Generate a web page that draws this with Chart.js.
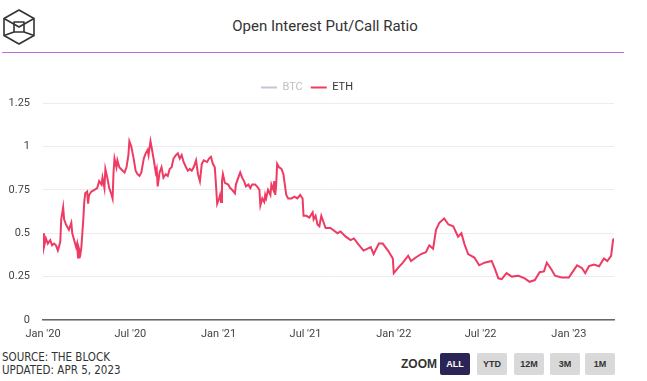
<!DOCTYPE html>
<html>
<head>
<meta charset="utf-8">
<script src="https://cdn.jsdelivr.net/npm/chart.js@4.4.0/dist/chart.umd.min.js"></script>
<style>
  html, body { margin: 0; padding: 0; background: #fff; }
  body { width: 647px; height: 381px; position: relative; overflow: hidden; font-family: Roboto, "Liberation Sans", sans-serif; }
  #logo { position: absolute; left: 3px; top: 9px; }
  #title { position: absolute; left: 0; top: 17px; width: 650px; text-align: center; font-size: 15px; color: #333; }
  #rule { position: absolute; left: 2px; top: 52px; width: 622px; height: 0; border-top: 1.5px solid #c46be0; }
  #chart-wrap { position: absolute; left: 0; top: 66px; width: 630px; height: 282px; }
  #source { position: absolute; left: 2px; top: 351px; font-family: "Liberation Sans Narrow", "DejaVu Sans Condensed", sans-serif; font-size: 11.5px; line-height: 13px; color: #333; }
  #zoom-label { position: absolute; left: 401px; top: 357px; font-family: "Liberation Sans Narrow", sans-serif; font-weight: bold; font-size: 12px; color: #333; }
  .zbtn { position: absolute; top: 353px; width: 30px; height: 22px; line-height: 22px; text-align: center; font-family: "Liberation Sans Narrow", sans-serif; font-weight: bold; font-size: 9px; color: #333; background: #d9d9d9; border-radius: 2px; }
  .zbtn.active { background: #2b2557; color: #fff; }
</style>
</head>
<body>
<svg id="logo" width="34" height="36" viewBox="0 0 34 36">
  <g fill="none" stroke="#333" stroke-width="1.6" stroke-linejoin="round">
    <polygon points="16,1 31,9.5 31,26.5 16,35 1,26.5 1,9.5"/>
    <polyline points="1,9.5 16,18 31,9.5"/>
    <rect x="11" y="13" width="10" height="10"/>
    <line x1="11" y1="23" x2="1" y2="26.5"/>
    <line x1="21" y1="23" x2="31" y2="26.5"/>
  </g>
</svg>
<div id="title">Open Interest Put/Call Ratio</div>
<div id="rule"></div>
<div id="chart-wrap"><canvas id="chart"></canvas></div>
<div id="source">SOURCE: THE BLOCK<br>UPDATED: APR 5, 2023</div>
<div id="zoom-label">ZOOM</div>
<div class="zbtn active" style="left:440px">ALL</div>
<div class="zbtn" style="left:477px">YTD</div>
<div class="zbtn" style="left:514px">12M</div>
<div class="zbtn" style="left:550px">3M</div>
<div class="zbtn" style="left:585px">1M</div>

<script>
// days since Jan 1, 2020
const ethDays = [
  0, 2, 6, 10, 15, 19, 23, 27, 31, 36, 38, 42, 44, 48, 52, 54, 59, 61, 65, 69,
  71, 73, 75, 78, 80, 82, 84, 86, 88, 92, 94, 96, 101, 107, 113, 117, 122, 124, 128, 130,
  134, 138, 143, 145, 147, 149, 153, 155, 159, 166, 170, 174, 178, 180, 184, 189, 193, 197, 201, 205,
  210, 214, 218, 220, 224, 226, 231, 235, 237, 239, 243, 247, 251, 256, 260, 264, 268, 272, 277, 281,
  285, 289, 293, 298, 302, 306, 310, 314, 319, 323, 327, 331, 335, 342, 346, 350, 354, 358, 360, 363,
  367, 369, 371, 373, 375, 379, 386, 390, 394, 400, 402, 407, 411, 415, 419, 423, 428, 432, 436, 442,
  446, 451, 453, 457, 461, 463, 465, 469, 474, 476, 480, 482, 484, 486, 488, 492, 497, 501, 503, 507,
  511, 518, 524, 530, 536, 541, 543, 549, 555, 562, 564, 568, 572, 576, 580, 585, 589, 599, 614, 620,
  631, 641, 648, 656, 668, 683, 689, 700, 708, 719, 729, 731, 740, 750, 761, 767, 777, 788, 798, 805,
  813, 819, 826, 836, 845, 855, 865, 872, 878, 886, 899, 909, 920, 935, 941, 949, 956, 966, 977, 991,
  1004, 1014, 1025, 1035, 1044, 1050, 1060, 1067, 1081, 1096, 1102, 1113, 1123, 1130, 1138, 1148, 1159, 1169, 1176, 1184,
  1188, 1190
];
const ethRatio = [
  0.50, 0.42, 0.47, 0.44, 0.46, 0.43, 0.44, 0.43, 0.40, 0.45, 0.58, 0.65, 0.58, 0.55, 0.53, 0.52, 0.56, 0.50, 0.46, 0.42,
  0.44, 0.36, 0.41, 0.38, 0.42, 0.50, 0.58, 0.68, 0.73, 0.74, 0.67, 0.72, 0.74, 0.75, 0.76, 0.80, 0.78, 0.82, 0.76, 0.87,
  0.82, 0.76, 0.72, 0.70, 0.85, 0.93, 0.88, 0.92, 0.88, 0.86, 0.85, 0.88, 0.95, 1.03, 1.00, 0.93, 0.86, 0.84, 0.83, 0.85,
  0.93, 0.96, 0.98, 0.95, 1.03, 1.00, 0.92, 0.85, 0.87, 0.77, 0.85, 0.88, 0.82, 0.84, 0.83, 0.87, 0.88, 0.93, 0.95, 0.96,
  0.93, 0.95, 0.91, 0.88, 0.86, 0.87, 0.86, 0.88, 0.92, 0.84, 0.80, 0.90, 0.92, 0.91, 0.93, 0.94, 0.90, 0.88, 0.80, 0.67,
  0.70, 0.72, 0.68, 0.80, 0.84, 0.79, 0.78, 0.76, 0.75, 0.73, 0.78, 0.82, 0.85, 0.82, 0.80, 0.77, 0.78, 0.76, 0.78, 0.78,
  0.77, 0.75, 0.66, 0.70, 0.68, 0.72, 0.70, 0.75, 0.72, 0.78, 0.75, 0.80, 0.72, 0.78, 0.90, 0.88, 0.87, 0.84, 0.80, 0.72,
  0.70, 0.70, 0.71, 0.70, 0.72, 0.70, 0.60, 0.60, 0.59, 0.62, 0.58, 0.60, 0.55, 0.54, 0.60, 0.56, 0.53, 0.53, 0.50, 0.51,
  0.48, 0.46, 0.47, 0.44, 0.40, 0.42, 0.38, 0.44, 0.44, 0.40, 0.355, 0.27, 0.30, 0.33, 0.37, 0.34, 0.36, 0.38, 0.39, 0.43,
  0.41, 0.52, 0.56, 0.585, 0.55, 0.54, 0.48, 0.50, 0.44, 0.38, 0.36, 0.315, 0.33, 0.34, 0.30, 0.24, 0.235, 0.27, 0.25, 0.255,
  0.24, 0.22, 0.23, 0.275, 0.28, 0.33, 0.29, 0.255, 0.245, 0.245, 0.27, 0.315, 0.30, 0.27, 0.31, 0.32, 0.31, 0.355, 0.34, 0.37,
  0.46, 0.47
];
const btcDays = [];
const btcRatio = [];

const xTickDays = [0, 182, 366, 547, 731, 912, 1096];
const xTickLabels = ["Jan '20", "Jul '20", "Jan '21", "Jul '21", "Jan '22", "Jul '22", "Jan '23"];

const ethColor = '#ee3b63';
const btcColor = '#c4c6d2';

new Chart(document.getElementById('chart'), {
  type: 'line',
  data: {
    datasets: [
      {
        label: 'BTC',
        data: btcDays.map((d, i) => ({ x: d, y: btcRatio[i] })),
        borderColor: btcColor,
        backgroundColor: btcColor,
        hidden: true,
      },
      {
        label: 'ETH',
        data: ethDays.map((d, i) => ({ x: d, y: ethRatio[i] })),
        borderColor: ethColor,
        backgroundColor: ethColor,
        borderWidth: 2,
        pointRadius: 0,
        tension: 0,
      },
    ],
  },
  options: {
    responsive: true,
    maintainAspectRatio: false,
    animation: false,
    layout: { padding: { left: 0, right: 16, top: 8, bottom: 0 } },
    plugins: {
      legend: {
        position: 'top',
        labels: {
          boxWidth: 16,
          boxHeight: 2,
          padding: 8,
          color: '#333',
          font: { family: 'Roboto', size: 11 },
          generateLabels: (chart) => chart.data.datasets.map((ds, i) => ({
            text: ds.label,
            fillStyle: ds.borderColor,
            strokeStyle: ds.borderColor,
            lineWidth: 0,
            hidden: false,
            fontColor: ds.hidden ? '#c0c0c0' : '#333',
            datasetIndex: i,
          })),
        },
      },
      tooltip: { enabled: false },
    },
    scales: {
      x: {
        type: 'linear',
        min: 0,
        max: 1190,
        afterBuildTicks: (scale) => { scale.ticks = xTickDays.map(v => ({ value: v })); },
        afterFit: (scale) => { scale.height = 28; },
        grid: { display: false, drawTicks: false },
        border: { display: true, color: '#666', width: 1.5 },
        ticks: {
          autoSkip: false,
          maxRotation: 0,
          padding: 8,
          color: '#444',
          font: { family: 'Roboto', size: 11 },
          callback: (v) => {
            const i = xTickDays.indexOf(v);
            return i >= 0 ? xTickLabels[i] : '';
          },
        },
      },
      y: {
        min: 0,
        max: 1.25,
        afterFit: (scale) => { scale.width = 43; },
        grid: { color: '#ececec', drawTicks: false },
        border: { display: false },
        ticks: {
          stepSize: 0.25,
          padding: 13,
          color: '#444',
          font: { family: 'Roboto', size: 11 },
          callback: (v) => String(Number(v.toFixed(2))),
        },
      },
    },
  },
});
</script>
</body>
</html>
